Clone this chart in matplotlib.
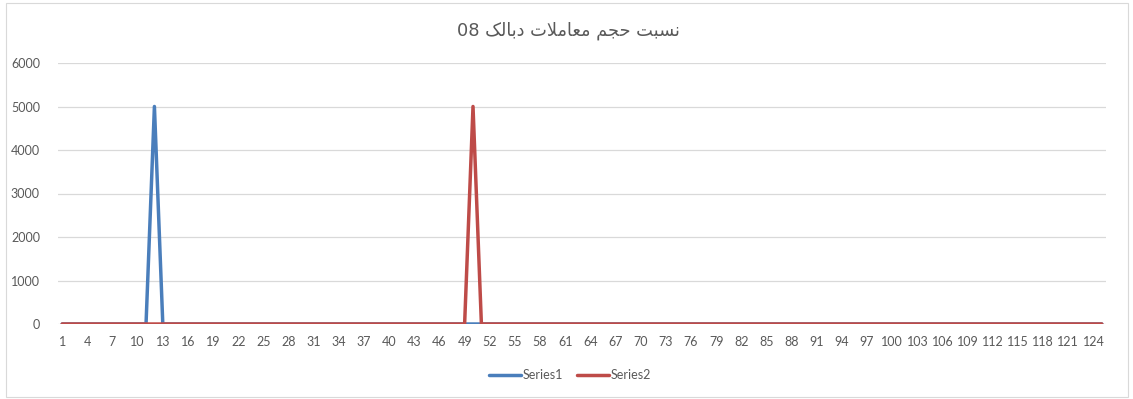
import matplotlib
matplotlib.use("Agg")
import matplotlib.pyplot as plt
from matplotlib.patches import Rectangle
import numpy as np

# Categories 1..125 on the x axis
categories = list(range(1, 126))

# Series values: zero everywhere except one spike each
series1 = [0] * 125
series1[11] = 5000   # category 12
series2 = [0] * 125
series2[49] = 5000   # category 50

series_names = ["Series1", "Series2"]
series_colors = ["#4A7EBB", "#BE4B48"]

y_ticks = [0, 1000, 2000, 3000, 4000, 5000, 6000]
x_tick_labels = [str(c) for c in categories[::3]]

# Title words in logical order, written with Arabic presentation forms
title_words = [
    "\uFEE7\uFEB4\uFE92\uFE96",                    # نسبت
    "\uFEA3\uFEA0\uFEE2",                          # حجم
    "\uFEE3\uFECC\uFE8E\uFEE3\uFEFC\uFE95",        # معاملات
    "\uFEA9\uFE91\uFE8E\uFEDF\uFB8F",              # دبالک
]
title_number = "08"
title_text = title_number + " " + " ".join(title_words)[::-1]

text_color = "#595959"
grid_color = "#D9D9D9"

W, H = 1133, 399
fig = plt.figure(figsize=(W / 100, H / 100), dpi=100)
fig.patch.set_facecolor("white")

# Outer chart border
fig.patches.append(Rectangle((6 / W, 2 / H), (1128 - 6) / W, (396 - 2) / H,
                             transform=fig.transFigure, fill=False,
                             edgecolor=grid_color, linewidth=0.8))

left, right = 58, 1106
top, bottom = 63, 324
ax = fig.add_axes([left / W, 1 - bottom / H, (right - left) / W, (bottom - top) / H])

x = np.array(categories)
ax.plot(x, series1, color=series_colors[0], linewidth=2.5,
        solid_joinstyle="round", solid_capstyle="round", label=series_names[0], zorder=3)
ax.plot(x, series2, color=series_colors[1], linewidth=2.5,
        solid_joinstyle="round", solid_capstyle="round", label=series_names[1], zorder=4)

ax.set_xlim(0.5, 125.5)
ax.set_ylim(0, 6000)
ax.set_yticks(y_ticks)
ax.set_yticklabels([str(v) for v in y_ticks])
ax.set_xticks(categories[::3])
ax.set_xticklabels(x_tick_labels)

for s in ax.spines.values():
    s.set_visible(False)
ax.grid(axis="y", color=grid_color, linewidth=0.9, zorder=0)
ax.set_axisbelow(True)
ax.tick_params(axis="both", length=0, labelsize=9, labelcolor=text_color)
ax.tick_params(axis="x", pad=9)
ax.tick_params(axis="y", pad=13)
for lab in ax.get_xticklabels() + ax.get_yticklabels():
    lab.set_family(["Lato", "DejaVu Sans"])

fig.text(568 / W, 1 - 31 / H, title_text, ha="center", va="center",
         fontsize=12.8, color=text_color, family=["DejaVu Sans"])

leg = ax.legend(loc="center", bbox_to_anchor=(570 / W, 1 - 375 / H),
                bbox_transform=fig.transFigure, ncol=2, frameon=False,
                handlelength=2.55, handletextpad=0.15, columnspacing=1.1,
                prop={"family": ["Lato", "DejaVu Sans"], "size": 9})
for t in leg.get_texts():
    t.set_color(text_color)

fig.savefig("out.png", dpi=100, facecolor="white")
